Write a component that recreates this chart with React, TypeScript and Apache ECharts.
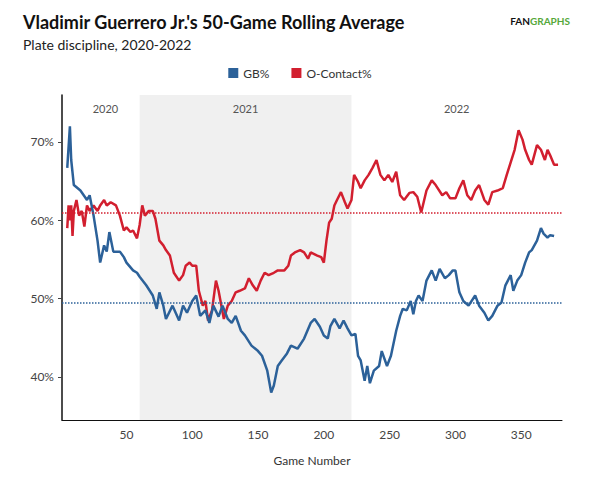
import React, { useEffect, useRef } from "react";
import * as echarts from "echarts";

const gbGames = [5,7,8,10,15,20,22,25,28,30,33,35,37,40,45,48,50,55,58,60,65,70,73,75,78,80,85,90,93,96,100,103,106,110,113,116,120,123,127,130,133,137,140,145,150,153,157,160,162,165,168,172,175,180,185,190,193,197,200,203,205,208,212,215,218,221,224,226,228,231,233,235,238,242,244,248,251,255,258,260,263,266,268,270,272,275,278,282,285,288,292,295,298,300,303,306,310,315,318,322,325,328,332,335,338,342,344,347,350,353,356,358,362,365,367,370,372,375];
const gbValues = [66.7,72,67.7,64.5,63.8,62.6,63.2,60.6,57.4,54.6,56.8,56,58.5,56,56,55.3,54.6,53.6,53.3,52.8,51.7,50.4,48.7,50.8,49.1,47.4,49.1,47.2,49.1,48.2,49.7,50.4,47.8,48.5,46.9,49.1,47.7,49.1,47.4,46.9,47.8,45.9,45.3,44,43.3,42.7,40.8,38,38.9,41.4,42.1,43,44,43.6,44.9,46.9,47.4,46.4,45.3,44.9,46.5,47.4,46.2,47.2,46.2,45.3,45.5,42.7,42.1,39.5,41.4,39.2,40.8,41.4,43.3,41.4,42.7,45.9,47.8,48.7,48.5,49.7,48,49.7,50.4,49.7,52.3,53.6,52.3,53.8,52.6,53,53.6,53.6,50.8,49.7,49.1,50.4,49.1,48.2,47.2,47.8,49.1,49.5,51.7,53,51,52.3,53,54.6,55.9,56.2,57.4,59,58.3,57.8,58.1,58];
const ocGames = [5,6,7,8,9,10,12,14,16,18,20,22,25,28,30,33,35,38,42,45,48,50,53,55,58,60,62,64,67,70,72,75,78,80,83,86,90,93,95,98,100,103,105,108,110,112,115,118,120,124,127,130,133,136,140,143,146,149,152,155,158,162,165,170,173,175,178,182,185,188,190,195,198,200,202,204,206,208,210,213,216,218,221,223,226,228,231,234,237,240,243,246,249,252,255,258,261,265,268,271,274,278,282,285,290,293,296,300,303,306,309,312,315,318,322,325,328,332,336,339,342,345,348,351,353,356,358,362,365,368,370,372,375,378];
const ocValues = [59,61.9,60,61.9,58,61.2,62.6,60.6,61.2,59.2,61.9,61.2,61.9,61.2,61.9,62.6,61.9,62.3,61.9,60.6,58.7,59.1,58.5,58.7,57.7,59.4,61.9,60.6,61.2,61.2,60.2,57.4,56.8,56.2,55.5,53.3,52.3,53,54.2,54.6,54.2,54.2,51,49.1,49.7,47.2,48.5,52.3,51,47.4,49.1,49.7,50.8,51,51.3,52.6,51.7,51,52.3,53.3,53,53.3,53.6,53.6,54.2,55.5,55.9,56.2,55.9,55.1,55.9,55.5,55.3,54.6,57.4,59.7,60.2,61.9,62.6,63.6,62.3,61.5,62.6,65.8,64.9,64.1,65.1,65.8,66.7,67.7,65.8,65.1,65.8,64.9,66.2,63.2,62.6,63.5,63.6,63,61,63.8,65.1,64.5,63.2,63.6,62.8,62.8,64.1,65.1,63.2,62.6,63.8,64.5,62.6,62,63.6,63.8,64.1,65.8,67.4,69,71.5,70.3,69,67.7,67.1,69.6,69,67.7,69,68.3,67.1,67.1];
const gbAvg = 49.5;
const ocAvg = 61;
const seasons = [
  { name: "2020", start: 8, end: 60 },
  { name: "2021", start: 60, end: 221 },
  { name: "2022", start: 221, end: 382 },
];
const xTicks = [50, 100, 150, 200, 250, 300, 350];
const yTicks = [40, 50, 60, 70];

const BLUE = "#2c6199";
const RED = "#d21f2f";

export default function App() {
  const ref = useRef<HTMLDivElement>(null);
  useEffect(() => {
    const chart = echarts.init(ref.current!, null, { renderer: "svg" });
    chart.setOption({
      animation: false,
      textStyle: { fontFamily: "Lato" },
      title: [
        { text: "Vladimir Guerrero Jr.'s 50-Game Rolling Average", left: 10, top: 0,
          textStyle: { fontSize: 18, fontWeight: "bold", color: "#111", fontFamily: "Lato" } },
        { text: "Plate discipline, 2020-2022", left: 10, top: 24,
          textStyle: { fontSize: 14, fontWeight: "normal", color: "#222", fontFamily: "Lato" } },
      ],
      graphic: [
        { type: "text", right: 22, top: 8, style: { text: "{a|FAN}{b|GRAPHS}", rich: {
          a: { fontSize: 10, fontWeight: "bold", fill: "#111", fontFamily: "Lato" },
          b: { fontSize: 10, fontWeight: "bold", fill: "#56a83a", fontFamily: "Lato" } } } },
      ],
      legend: {
        top: 54, left: "center", itemWidth: 10, itemHeight: 10, icon: "rect", itemGap: 22,
        textStyle: { fontSize: 12, color: "#333", fontFamily: "Lato" },
        data: ["GB%", "O-Contact%"],
      },
      grid: { left: 54, right: 30, top: 87, bottom: 58 },
      xAxis: {
        type: "value", min: 1, max: 381,
        name: "Game Number", nameLocation: "middle", nameGap: 34,
        nameTextStyle: { fontSize: 12, color: "#333" },
        splitLine: { show: false },
        axisLine: { lineStyle: { color: "#111" } },
        axisTick: { show: false, customValues: xTicks },
        axisLabel: { customValues: xTicks, color: "#444", fontSize: 12 },
      },
      yAxis: {
        type: "value", min: 34.5, max: 76,
        splitLine: { show: false },
        axisLine: { show: true, lineStyle: { color: "#111", width: 1.5 } },
        axisTick: { show: true, customValues: yTicks, length: 4, lineStyle: { color: "#444" } },
        axisLabel: { customValues: yTicks, formatter: "{value}%", color: "#444", fontSize: 12 },
      },
      series: [
        {
          name: "GB%", type: "line", showSymbol: false, symbol: "none", color: BLUE,
          lineStyle: { width: 2.5, color: BLUE },
          data: gbGames.map((g, i) => [g, gbValues[i]]),
          markArea: {
            silent: true,
            data: seasons.map((s) => [
              { xAxis: s.start, itemStyle: { color: s.name === "2021" ? "#f0f0f0" : "rgba(0,0,0,0)" },
                label: { show: true, position: "insideTop", distance: 8, formatter: s.name, color: "#555", fontSize: 11 } },
              { xAxis: s.end },
            ]),
          },
          markLine: {
            silent: true, symbol: "none", label: { show: false },
            lineStyle: { type: "dotted", color: BLUE, width: 1.5 },
            data: [{ yAxis: gbAvg }],
          },
          z: 3,
        },
        {
          name: "O-Contact%", type: "line", showSymbol: false, symbol: "none", color: RED,
          lineStyle: { width: 2.5, color: RED },
          data: ocGames.map((g, i) => [g, ocValues[i]]),
          markLine: {
            silent: true, symbol: "none", label: { show: false },
            lineStyle: { type: "dotted", color: RED, width: 1.5 },
            data: [{ yAxis: ocAvg }],
          },
          z: 2,
        },
      ],
    });
    return () => chart.dispose();
  }, []);
  return <div ref={ref} style={{ width: 584, height: 470 }} />;
}
